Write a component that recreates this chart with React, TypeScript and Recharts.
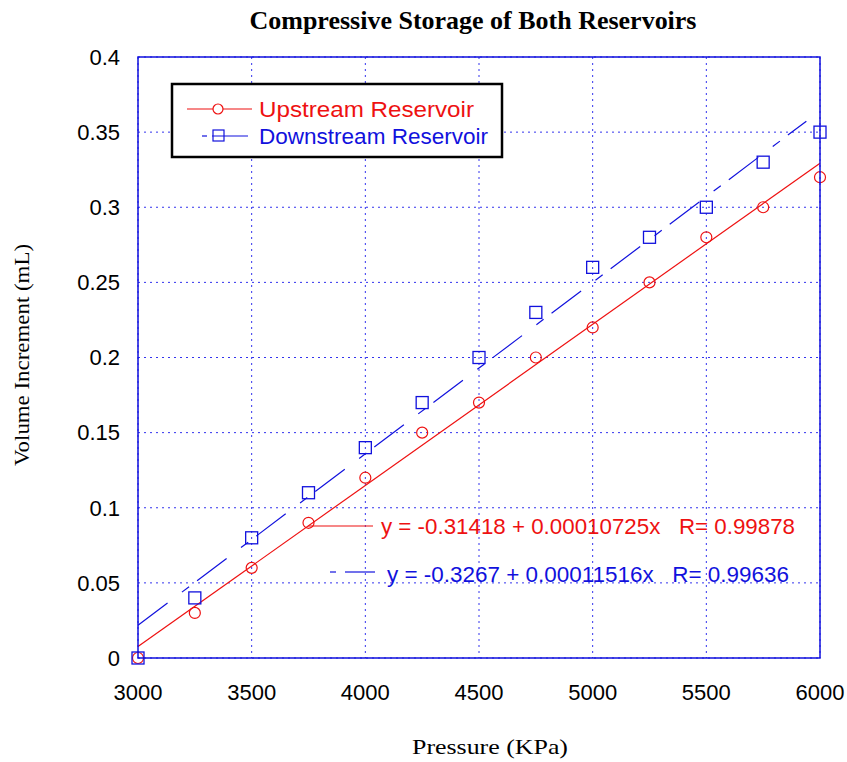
import { CartesianGrid, ComposedChart, Scatter, XAxis, YAxis } from "recharts";

const PRESSURE = [3000, 3250, 3500, 3750, 4000, 4250, 4500, 4750, 5000, 5250, 5500, 5750, 6000];
const UPSTREAM = [0, 0.03, 0.06, 0.09, 0.12, 0.15, 0.17, 0.2, 0.22, 0.25, 0.28, 0.3, 0.32];
const DOWNSTREAM = [0, 0.04, 0.08, 0.11, 0.14, 0.17, 0.2, 0.23, 0.26, 0.28, 0.3, 0.33, 0.35];

// fitted line end points (match the printed equations)
const UP_FIT_X = [3000, 6000];
const UP_FIT_Y = [0.0076, 0.3293];
const DOWN_FIT_X = [3000, 5940];
const DOWN_FIT_Y = [0.0218, 0.3573];

const X_TICKS = [3000, 3500, 4000, 4500, 5000, 5500, 6000];
const Y_TICKS = [0, 0.05, 0.1, 0.15, 0.2, 0.25, 0.3, 0.35, 0.4];

const RED = "#ee1111";
const BLUE = "#1111dd";
const SANS = "'Liberation Sans', Arial, sans-serif";
const SERIF = "'Liberation Serif', 'Times New Roman', serif";

const upData = PRESSURE.map((p, i) => ({ x: p, y: UPSTREAM[i] }));
const downData = PRESSURE.map((p, i) => ({ x: p, y: DOWNSTREAM[i] }));
const upFit = UP_FIT_X.map((x, i) => ({ x, y: UP_FIT_Y[i] }));
const downFit = DOWN_FIT_X.map((x, i) => ({ x, y: DOWN_FIT_Y[i] }));

const Circle = (props: any) => (
  <circle cx={props.cx} cy={props.cy} r={5.5} fill="none" stroke={RED} strokeWidth={1.2} />
);
const Square = (props: any) => (
  <rect x={props.cx - 6} y={props.cy - 6} width={12} height={12} fill="none" stroke={BLUE} strokeWidth={1.3} />
);
const NoShape = () => null;

const DASH = "37 18 9 10";
const STRETCH = "spacingAndGlyphs";

export default function App() {
  return (
    <div style={{ position: "absolute", left: 0, top: 0, width: 847, height: 762, background: "#fff" }}>
      <ComposedChart width={847} height={762} margin={{ top: 57, right: 27, left: 78, bottom: 64 }}>
        <CartesianGrid stroke="#3333ee" strokeDasharray="2 4" strokeWidth={1} />
        <XAxis
          type="number"
          dataKey="x"
          domain={[3000, 6000]}
          ticks={X_TICKS}
          height={40}
          axisLine={false}
          tickLine={false}
          tickSize={8}
          tickMargin={18}
          tick={{ fill: "#000", fontSize: 22, fontFamily: SANS }}
        />
        <YAxis
          type="number"
          dataKey="y"
          domain={[0, 0.4]}
          ticks={Y_TICKS}
          width={60}
          axisLine={false}
          tickLine={false}
          tickSize={8}
          tickMargin={10}
          tick={{ fill: "#000", fontSize: 22, fontFamily: SANS }}
        />
        <Scatter data={upFit} line={{ stroke: RED, strokeWidth: 1.2 }} shape={NoShape} isAnimationActive={false} />
        <Scatter
          data={downFit}
          line={{ stroke: BLUE, strokeWidth: 1.2, strokeDasharray: DASH }}
          shape={NoShape}
          isAnimationActive={false}
        />
        <Scatter data={upData} shape={Circle} isAnimationActive={false} />
        <Scatter data={downData} shape={Square} isAnimationActive={false} />
      </ComposedChart>
      <svg
        width={847}
        height={762}
        style={{ position: "absolute", left: 0, top: 0, pointerEvents: "none" }}
      >
        <rect x={138} y={57} width={682} height={601} fill="none" stroke={BLUE} strokeWidth={1.5} />
        <text
          x={473}
          y={29}
          textAnchor="middle"
          fontFamily={SERIF}
          fontWeight="bold"
          fontSize={25}
          textLength={447}
          lengthAdjust={STRETCH}
        >
          Compressive Storage of Both Reservoirs
        </text>
        <text
          x={490}
          y={754}
          textAnchor="middle"
          fontFamily={SERIF}
          fontSize={21}
          textLength={156}
          lengthAdjust={STRETCH}
        >
          Pressure (KPa)
        </text>
        <text
          x={29}
          y={355}
          textAnchor="middle"
          fontFamily={SERIF}
          fontSize={20}
          textLength={222}
          lengthAdjust={STRETCH}
          transform="rotate(-90 29 355)"
        >
          Volume Increment (mL)
        </text>

        <rect x={172} y={84} width={330} height={73} fill="#fff" stroke="#000" strokeWidth={2.5} />
        <line x1={187} y1={109} x2={252} y2={109} stroke={RED} strokeWidth={1.2} />
        <circle cx={218} cy={109} r={5} fill="#fff" stroke={RED} strokeWidth={1.2} />
        <text x={259} y={117} fontFamily={SANS} fontSize={22} fill={RED} textLength={215} lengthAdjust={STRETCH}>
          Upstream Reservoir
        </text>
        <line x1={202} y1={136} x2={207} y2={136} stroke={BLUE} strokeWidth={1.2} />
        <line x1={212} y1={136} x2={248} y2={136} stroke={BLUE} strokeWidth={1.2} />
        <rect x={213} y={130} width={11} height={11} fill="none" stroke={BLUE} strokeWidth={1.2} />
        <text x={259} y={144} fontFamily={SANS} fontSize={22} fill={BLUE} textLength={229} lengthAdjust={STRETCH}>
          Downstream Reservoir
        </text>

        <line x1={308} y1={526} x2={373} y2={526} stroke={RED} strokeWidth={1.2} />
        <text
          x={381}
          y={534}
          fontFamily={SANS}
          fontSize={22}
          fill={RED}
          xmlSpace="preserve"
          textLength={414}
          lengthAdjust={STRETCH}
        >
          y = -0.31418 + 0.00010725x   R= 0.99878
        </text>
        <line x1={330} y1={572} x2={336} y2={572} stroke={BLUE} strokeWidth={1.2} />
        <line x1={345} y1={572} x2={375} y2={572} stroke={BLUE} strokeWidth={1.2} />
        <text
          x={387}
          y={582}
          fontFamily={SANS}
          fontSize={22}
          fill={BLUE}
          xmlSpace="preserve"
          textLength={402}
          lengthAdjust={STRETCH}
        >
          y = -0.3267 + 0.00011516x   R= 0.99636
        </text>
      </svg>
    </div>
  );
}
